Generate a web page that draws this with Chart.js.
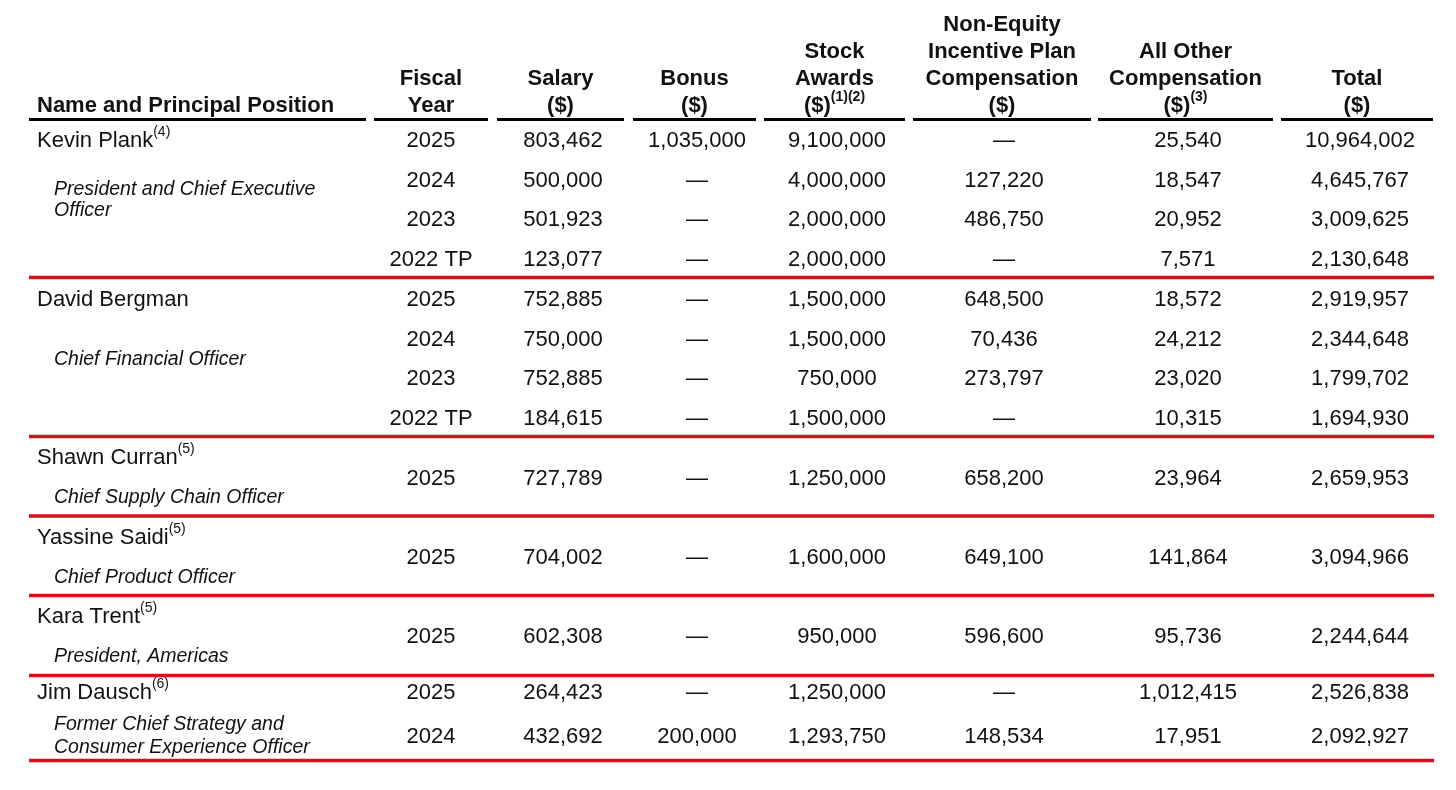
<!DOCTYPE html>
<html>
<head>
<meta charset="utf-8">
<script src="https://cdn.jsdelivr.net/npm/chart.js@4"></script>
<style>
  html, body { margin: 0; padding: 0; background: #fff; }
  #wrap { width: 1456px; height: 790px; position: relative; }
</style>
</head>
<body>
<div id="wrap"><canvas id="chart"></canvas></div>
<script>
// table data
var names = ["Kevin Plank", "David Bergman", "Shawn Curran", "Yassine Saidi", "Kara Trent", "Jim Dausch"];
var nameNotes = ["(4)", "", "(5)", "(5)", "(5)", "(6)"];
var titles = [
    ["President and Chief Executive", "Officer"],
    ["Chief Financial Officer"],
    ["Chief Supply Chain Officer"],
    ["Chief Product Officer"],
    ["President, Americas"],
    ["Former Chief Strategy and", "Consumer Experience Officer"]
];
var fiscalYears = ["2025", "2024", "2023", "2022 TP", "2025", "2024", "2023", "2022 TP", "2025", "2025", "2025", "2025", "2024"];
var salary = [803462, 500000, 501923, 123077, 752885, 750000, 752885, 184615, 727789, 704002, 602308, 264423, 432692];
var bonus = [1035000, null, null, null, null, null, null, null, null, null, null, null, 200000];
var stockAwards = [9100000, 4000000, 2000000, 2000000, 1500000, 1500000, 750000, 1500000, 1250000, 1600000, 950000, 1250000, 1293750];
var nonEquity = [null, 127220, 486750, null, 648500, 70436, 273797, null, 658200, 649100, 596600, null, 148534];
var allOther = [25540, 18547, 20952, 7571, 18572, 24212, 23020, 10315, 23964, 141864, 95736, 1012415, 17951];
var total = [10964002, 4645767, 3009625, 2130648, 2919957, 2344648, 1799702, 1694930, 2659953, 3094966, 2244644, 2526838, 2092927];

var headers = [
    ["Name and Principal Position"],
    ["Fiscal", "Year"],
    ["Salary", "($)"],
    ["Bonus", "($)"],
    ["Stock", "Awards", "($)"],
    ["Non-Equity", "Incentive Plan", "Compensation", "($)"],
    ["All Other", "Compensation", "($)"],
    ["Total", "($)"]
];
var headerNotes = ["", "", "", "", "(1)(2)", "", "(3)", ""];

// layout (in scale units, 1 unit = 1 px)
var colSpans = [[29, 366], [374, 488], [497, 624], [633, 756], [764, 905], [913, 1091], [1098, 1273], [1281, 1433]];
var valueX = [431, 563, 697, 837, 1004, 1188, 1360];
var rowY = [139, 179, 218, 258, 298, 338, 377, 417, 477, 556, 635, 691, 735];
var nameY = [139, 298, 456, 536, 615, 691];
var titleY = [[188, 209], [358], [496], [576], [655], [723, 746]];
var headerLineY = [22.5, 49.5, 76.5, 103.5];
var headerRuleY = 119.5;
var groupRuleY = [277.5, 436.5, 516, 595.5, 675.5, 760.5];

var FONT = "'Liberation Sans', Arial, Helvetica, sans-serif";
var RED = "#d3111c";

function fmt(v) {
    if (v == null) return "\u2014";
    if (typeof v == "string") return v;
    return v.toLocaleString("en-US");
}

// rules as line datasets
var datasets = [];
colSpans.forEach(function (s) {
    datasets.push({
        data: [{ x: s[0], y: headerRuleY }, { x: s[1], y: headerRuleY }],
        borderColor: "#000", borderWidth: 3, pointRadius: 0, showLine: true
    });
});
groupRuleY.forEach(function (y) {
    datasets.push({
        data: [{ x: 29, y: y }, { x: 1434, y: y }],
        borderColor: RED, borderWidth: 3.5, pointRadius: 0, showLine: true
    });
});

var tableText = {
    id: "tableText",
    afterDatasetsDraw: function (chart) {
        var ctx = chart.ctx;
        var sx = chart.scales.x, sy = chart.scales.y;
        function px(v) { return sx.getPixelForValue(v); }
        function py(v) { return sy.getPixelForValue(v); }
        ctx.save();
        ctx.fillStyle = "#111";
        ctx.textBaseline = "alphabetic";

        // header
        headers.forEach(function (lines, c) {
            var first = headerLineY.length - lines.length;
            lines.forEach(function (t, i) {
                var y = py(headerLineY[first + i]) + 8;
                ctx.font = "bold 22px " + FONT;
                var last = i == lines.length - 1;
                if (c == 0) {
                    ctx.textAlign = "left";
                    ctx.fillText(t, px(37), y);
                    return;
                }
                var cx = px((colSpans[c][0] + colSpans[c][1]) / 2);
                var note = last ? headerNotes[c] : "";
                var w = ctx.measureText(t).width;
                ctx.font = "bold 14px " + FONT;
                var wn = note ? ctx.measureText(note).width : 0;
                var x0 = cx - (w + wn) / 2;
                ctx.textAlign = "left";
                ctx.font = "bold 22px " + FONT;
                ctx.fillText(t, x0, y);
                if (note) {
                    ctx.font = "bold 14px " + FONT;
                    ctx.fillText(note, x0 + w, y - 11);
                }
            });
        });

        // names and titles
        names.forEach(function (n, i) {
            var y = py(nameY[i]) + 8;
            ctx.textAlign = "left";
            ctx.font = "22px " + FONT;
            ctx.fillText(n, px(37), y);
            var w = ctx.measureText(n).width;
            if (nameNotes[i]) {
                ctx.font = "14px " + FONT;
                ctx.fillText(nameNotes[i], px(37) + w, y - 11);
            }
            ctx.font = "italic 19.5px " + FONT;
            titles[i].forEach(function (t, k) {
                ctx.fillText(t, px(54), py(titleY[i][k]) + 7);
            });
        });

        // values
        var cols = [fiscalYears, salary, bonus, stockAwards, nonEquity, allOther, total];
        ctx.font = "22px " + FONT;
        ctx.textAlign = "center";
        cols.forEach(function (col, c) {
            col.forEach(function (v, r) {
                ctx.fillText(fmt(v), px(valueX[c]), py(rowY[r]) + 8);
            });
        });
        ctx.restore();
    }
};

var chart = new Chart(document.getElementById("chart").getContext("2d"), {
    type: "scatter",
    data: { datasets: datasets },
    options: {
        responsive: true,
        maintainAspectRatio: false,
        animation: false,
        layout: { padding: 0 },
        plugins: { legend: { display: false }, tooltip: { enabled: false } },
        scales: {
            x: { type: "linear", min: 0, max: 1456, display: false },
            y: { type: "linear", min: 0, max: 790, reverse: true, display: false }
        }
    },
    plugins: [tableText]
});
</script>
</body>
</html>
